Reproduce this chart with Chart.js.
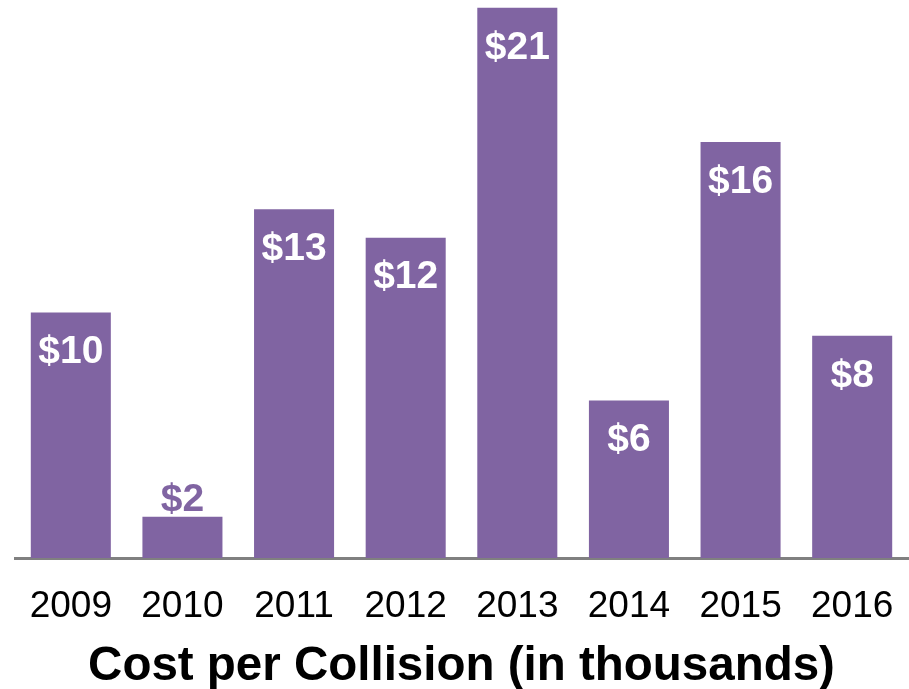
<!DOCTYPE html>
<html lang="en">
  <head>
    <meta charset="UTF-8" />
    <title>Cost per Collision</title>
    <script src="https://cdn.jsdelivr.net/npm/chart.js"></script>
    <style>
      html, body { margin: 0; padding: 0; background: #fff; }
      #wrap { width: 909px; height: 689px; }
    </style>
  </head>
  <body>
    <div id="wrap"><canvas id="myChart" width="909" height="689"></canvas></div>

    <script>
      // DATA
      const years = ['2009', '2010', '2011', '2012', '2013', '2014', '2015', '2016'];
      const costs = [9.5, 1.6, 13.5, 12.4, 21.3, 6.1, 16.1, 8.6];
      const costLabels = ['$10', '$2', '$13', '$12', '$21', '$6', '$16', '$8'];
      const axisTitle = 'Cost per Collision (in thousands)';

      const purple = 'rgb(128,100,162)';

      // value labels: white inside tall bars, purple above short ones
      const barLabels = {
        id: 'barLabels',
        afterDatasetsDraw(chart) {
          const ctx = chart.ctx;
          const meta = chart.getDatasetMeta(0);
          ctx.save();
          ctx.font = 'bold 39px "Liberation Sans", Arial, sans-serif';
          ctx.textAlign = 'center';
          ctx.textBaseline = 'middle';
          meta.data.forEach((bar, i) => {
            const h = bar.base - bar.y;
            if (h > 60) {
              ctx.fillStyle = '#fff';
              ctx.fillText(costLabels[i], bar.x, bar.y + 40);
            } else {
              ctx.fillStyle = purple;
              ctx.fillText(costLabels[i], bar.x, bar.y - 16);
            }
          });
          ctx.restore();
        }
      };

      const config = {
        type: 'bar',
        data: {
          labels: years,
          datasets: [{
            data: costs,
            backgroundColor: purple,
            borderWidth: 0,
            barPercentage: 0.717,
            categoryPercentage: 1
          }]
        },
        options: {
          responsive: false,
          animation: false,
          layout: { padding: { left: 15, right: 1, top: 0, bottom: 0 } },
          plugins: {
            legend: { display: false },
            tooltip: { enabled: false }
          },
          scales: {
            x: {
              grid: { display: false, drawTicks: false },
              border: { display: true, color: '#808080', width: 3 },
              ticks: {
                color: '#000',
                padding: 10,
                font: { family: '"Liberation Sans", Arial, sans-serif', size: 37, lineHeight: 2.1 }
              },
              title: {
                display: true,
                text: axisTitle,
                color: '#000',
                padding: { top: -12.2, bottom: -2 },
                font: { family: '"Liberation Sans", Arial, sans-serif', size: 47.5, weight: 'bold', lineHeight: 1 }
              }
            },
            y: {
              display: false,
              min: 0,
              max: 21.6
            }
          }
        },
        plugins: [barLabels]
      };

      new Chart(document.getElementById('myChart'), config);
    </script>
  </body>
</html>
